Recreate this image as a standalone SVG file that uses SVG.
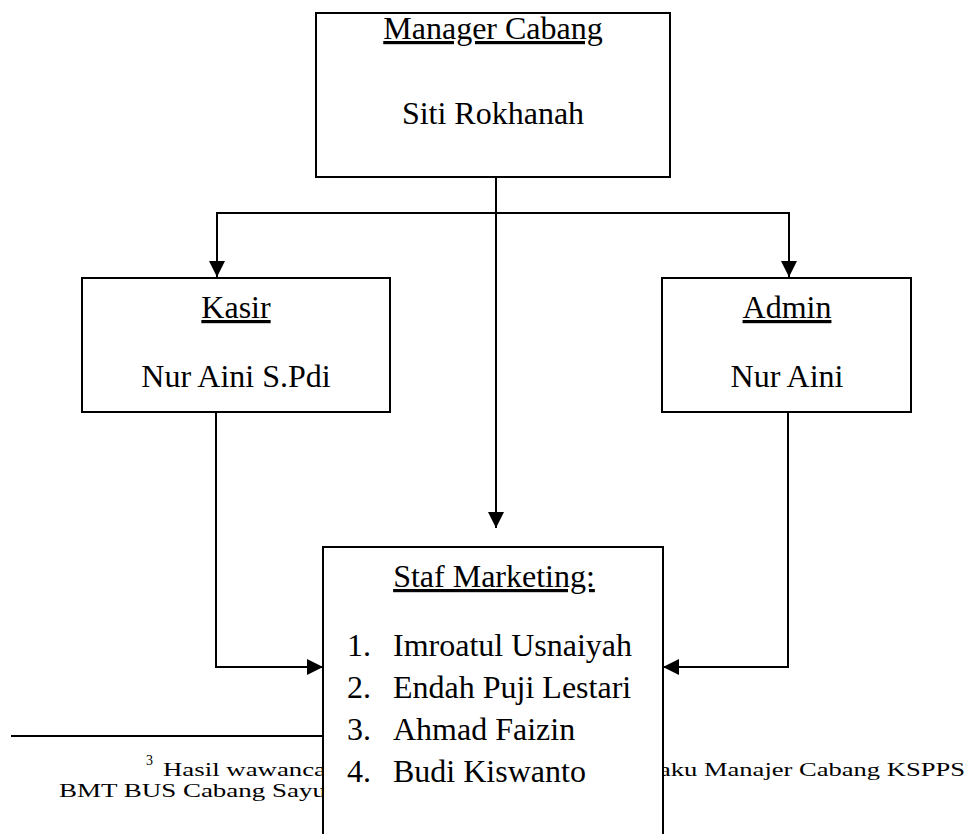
<svg xmlns="http://www.w3.org/2000/svg" width="974" height="834" viewBox="0 0 974 834">
<style>
  .box { fill: #fff; stroke: #000; stroke-width: 2; }
  .t { font-family: "Liberation Serif", "Times New Roman", serif; font-size: 32px; fill: #000; }
  .c { text-anchor: middle; }
  .u { text-decoration: underline; }
  .fn { font-family: "Liberation Serif", "Times New Roman", serif; font-size: 19px; fill: #000; }
  .conn { fill: none; stroke: #000; stroke-width: 2; }
</style>
<defs>
  <marker id="arr" markerUnits="userSpaceOnUse" markerWidth="16" markerHeight="16" refX="16" refY="8" orient="auto">
    <path d="M0,0 L16,8 L0,16 z" fill="#000"/>
  </marker>
</defs>
<rect width="974" height="834" fill="#fff"/>

<g id="footnote">
  <line x1="11" y1="736" x2="324" y2="736" stroke="#000" stroke-width="2"/>
  <text class="fn" x="146" y="765" style="font-size:14px">3</text>
  <text class="fn" x="163" y="776" textLength="163" lengthAdjust="spacingAndGlyphs">Hasil wawanca</text>
  <text class="fn" x="59" y="797" textLength="267" lengthAdjust="spacingAndGlyphs">BMT BUS Cabang Sayu</text>
  <text class="fn" x="659" y="776" textLength="306" lengthAdjust="spacingAndGlyphs">aku Manajer Cabang KSPPS</text>
</g>

<g id="connectors">
  <path class="conn" d="M496,177 V528" marker-end="url(#arr)"/>
  <path class="conn" d="M496,213 H217 V277" marker-end="url(#arr)"/>
  <path class="conn" d="M496,213 H789 V277" marker-end="url(#arr)"/>
  <path class="conn" d="M216,412 V667 H323" marker-end="url(#arr)"/>
  <path class="conn" d="M788,412 V667 H663" marker-end="url(#arr)"/>
</g>

<g id="manager">
  <rect class="box" x="316" y="13" width="354" height="164"/>
  <text class="t c u" x="493" y="39">Manager Cabang</text>
  <text class="t c" x="493" y="124">Siti Rokhanah</text>
</g>

<g id="kasir">
  <rect class="box" x="82" y="278" width="308" height="134"/>
  <text class="t c u" x="236" y="318">Kasir</text>
  <text class="t c" x="236" y="387">Nur Aini S.Pdi</text>
</g>

<g id="admin">
  <rect class="box" x="662" y="278" width="249" height="134"/>
  <text class="t c u" x="787" y="318">Admin</text>
  <text class="t c" x="787" y="387">Nur Aini</text>
</g>

<g id="staf">
  <rect class="box" x="323" y="547" width="340" height="300"/>
  <text class="t c u" x="494" y="587">Staf Marketing:</text>
  <text class="t" x="347" y="656">1.</text>
  <text class="t" x="393" y="656">Imroatul Usnaiyah</text>
  <text class="t" x="347" y="698">2.</text>
  <text class="t" x="393" y="698">Endah Puji Lestari</text>
  <text class="t" x="347" y="740">3.</text>
  <text class="t" x="393" y="740">Ahmad Faizin</text>
  <text class="t" x="347" y="782">4.</text>
  <text class="t" x="393" y="782">Budi Kiswanto</text>
</g>
</svg>
